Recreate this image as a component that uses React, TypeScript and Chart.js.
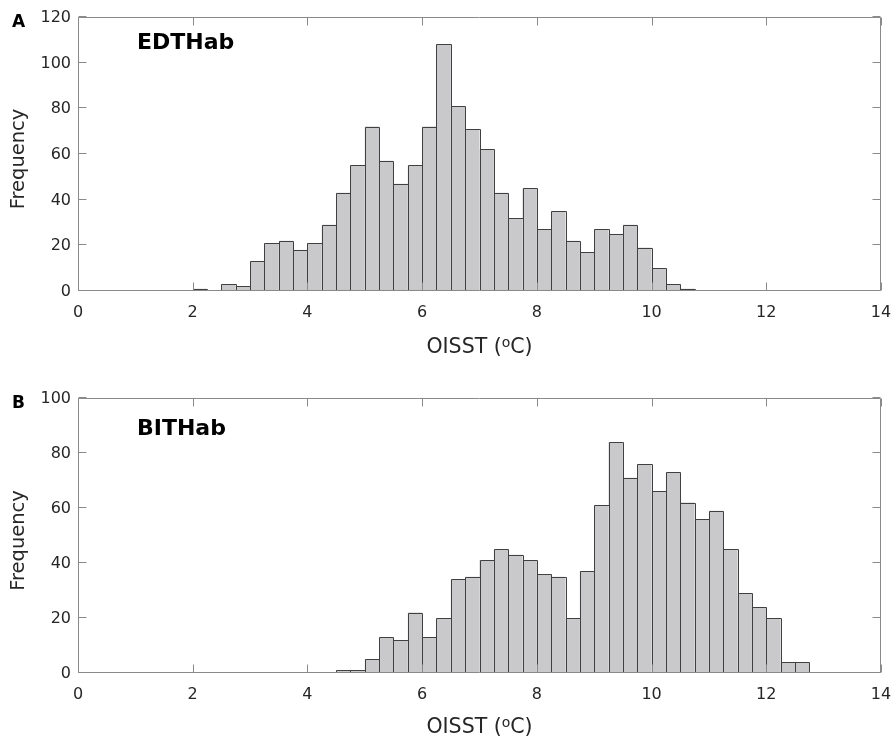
import React, { useEffect, useRef } from 'react';
import { Chart, registerables } from 'chart.js';

Chart.register(...registerables);

// ---------------- data ----------------
const binWidth = 0.25;

const edtStart = 2.0;
const edtCounts = [1, 0, 3, 2, 13, 21, 22, 18, 21, 29, 43, 55, 72, 57, 47, 55, 72, 108, 81, 71, 62, 43, 32, 45, 27, 35, 22, 17, 27, 25, 29, 19, 10, 3, 1];

const bitStart = 4.5;
const bitCounts = [1, 1, 5, 13, 12, 22, 13, 20, 34, 35, 41, 45, 43, 41, 36, 35, 20, 37, 61, 84, 71, 76, 66, 73, 62, 56, 59, 45, 29, 24, 20, 4, 4];

const xMin = 0;
const xMax = 14;
const xStep = 2;
const yStep = 20;
const edtYMax = 120;
const bitYMax = 100;

const yTitle = 'Frequency';
const xTitleMain = 'OISST (';
const xTitleSup = 'o';
const xTitleEnd = 'C)';

// ---------------- styles ----------------
const FONT = '"DejaVu Sans", "Liberation Sans", Arial, sans-serif';
const TEXT = '#262626';
const AXIS = '#8a8a8a';
const BAR_FILL = '#c9c9cb';
const BAR_EDGE = '#404040';
const W = 893;

type PanelProps = {
  counts: number[];
  start: number;
  yMax: number;
  letter: string;
  name: string;
  nameDy: number;
  titleDy: number;
  top: number;
  height: number;
  padTop: number;
  bottomFromTop: number;
};

function Panel(p: PanelProps) {
  const ref = useRef<HTMLCanvasElement>(null);
  useEffect(() => {
    const canvas = ref.current!;
    const data = p.counts.map((c, i) => ({ x: p.start + binWidth * (i + 0.5), y: c }));
    const chartBottom = p.bottomFromTop;

    const edgePlugin = {
      id: 'edges' + p.letter,
      afterDatasetsDraw(chart: any) {
        const { ctx } = chart;
        const xs = chart.scales.x;
        const ys = chart.scales.y;
        const base = Math.round(ys.getPixelForValue(0));
        ctx.save();
        ctx.strokeStyle = BAR_EDGE;
        ctx.lineWidth = 1;
        ctx.beginPath();
        p.counts.forEach((c, i) => {
          if (c <= 0) return;
          const L = Math.round(xs.getPixelForValue(p.start + i * binWidth)) + 0.5;
          const R = Math.round(xs.getPixelForValue(p.start + (i + 1) * binWidth)) + 0.5;
          const T = Math.round(ys.getPixelForValue(c)) + 0.5;
          ctx.moveTo(L, base);
          ctx.lineTo(L, T);
          ctx.lineTo(R, T);
          ctx.lineTo(R, base);
        });
        ctx.stroke();
        ctx.restore();
      },
    };

    const framePlugin = {
      id: 'frame' + p.letter,
      afterDraw(chart: any) {
        const { ctx, chartArea } = chart;
        const { left, right, top, bottom } = chartArea;
        const xs = chart.scales.x;
        const ys = chart.scales.y;
        ctx.save();
        ctx.strokeStyle = AXIS;
        ctx.lineWidth = 1;
        const L = Math.round(left) + 0.5;
        const R = Math.round(right) - 0.5;
        const T = Math.round(top) + 0.5;
        const B = Math.round(bottom) - 0.5;
        ctx.beginPath();
        ctx.rect(L, T, R - L, B - T);
        const tl = 8;
        xs.ticks.forEach((t: any) => {
          const px = Math.round(xs.getPixelForValue(t.value)) + 0.5;
          ctx.moveTo(px, B);
          ctx.lineTo(px, B - tl);
          ctx.moveTo(px, T);
          ctx.lineTo(px, T + tl);
        });
        ys.ticks.forEach((t: any) => {
          const py = Math.round(ys.getPixelForValue(t.value)) - 0.5;
          ctx.moveTo(L, py);
          ctx.lineTo(L + tl, py);
          ctx.moveTo(R, py);
          ctx.lineTo(R - tl, py);
        });
        ctx.stroke();

        // panel letter
        ctx.fillStyle = '#000';
        ctx.textAlign = 'left';
        ctx.textBaseline = 'alphabetic';
        ctx.font = `bold 17px ${FONT}`;
        ctx.fillText(p.letter, 12, top + 9.5);

        // panel name
        ctx.font = `bold 22px ${FONT}`;
        ctx.fillText(p.name, 137, top + p.nameDy);

        // y title
        ctx.fillStyle = TEXT;
        ctx.font = `19.5px ${FONT}`;
        ctx.save();
        ctx.translate(19, (top + bottom) / 2 + 5);
        ctx.rotate(-Math.PI / 2);
        ctx.textAlign = 'center';
        ctx.textBaseline = 'middle';
        ctx.fillText(yTitle, 0, 0);
        ctx.restore();

        // x title with superscript
        ctx.textAlign = 'left';
        ctx.textBaseline = 'alphabetic';
        ctx.font = `20.5px ${FONT}`;
        const w1 = ctx.measureText(xTitleMain).width;
        const w3 = ctx.measureText(xTitleEnd).width;
        ctx.font = `14px ${FONT}`;
        const w2 = ctx.measureText(xTitleSup).width;
        const total = w1 + w2 + w3;
        let sx = (left + right) / 2 - total / 2;
        const by = bottom + p.titleDy;
        ctx.font = `20.5px ${FONT}`;
        ctx.fillText(xTitleMain, sx, by);
        sx += w1;
        ctx.font = `14px ${FONT}`;
        ctx.fillText(xTitleSup, sx, by - 6.5);
        sx += w2;
        ctx.font = `20.5px ${FONT}`;
        ctx.fillText(xTitleEnd, sx, by);
        ctx.restore();
      },
    };

    const chart = new Chart(canvas, {
      type: 'bar',
      data: {
        datasets: [
          {
            data: data as any,
            backgroundColor: BAR_FILL,
            borderWidth: 0,
            barPercentage: 1,
            categoryPercentage: 1,
            inflateAmount: 0,
          } as any,
        ],
      },
      options: {
        responsive: false,
        animation: false,
        devicePixelRatio: 1,
        layout: { padding: { top: p.padTop, left: 0, right: 12, bottom: 0 } },
        plugins: { legend: { display: false }, tooltip: { enabled: false } },
        scales: {
          x: {
            type: 'linear',
            min: xMin,
            max: xMax,
            offset: false,
            grid: { display: false, offset: false, drawTicks: false },
            border: { display: false },
            ticks: {
              stepSize: xStep,
              autoSkip: false,
              maxRotation: 0,
              padding: 12,
              color: TEXT,
              font: { family: FONT, size: 16 },
            },
            afterFit: (s: any) => {
              s.height = p.height - chartBottom;
              s.paddingLeft = 0;
              s.paddingRight = 0;
            },
          },
          y: {
            min: 0,
            max: p.yMax,
            grid: { display: false, drawTicks: false },
            border: { display: false },
            ticks: {
              stepSize: yStep,
              padding: 7,
              labelOffset: 1,
              color: TEXT,
              font: { family: FONT, size: 16 },
            },
            afterFit: (s: any) => {
              s.width = 78;
              s.paddingTop = 0;
              s.paddingBottom = 0;
            },
          },
        },
      } as any,
      plugins: [edgePlugin, framePlugin],
    });
    return () => chart.destroy();
  }, []);
  return (
    <canvas
      ref={ref}
      width={W}
      height={p.height}
      style={{ position: 'absolute', left: 0, top: p.top, width: W, height: p.height }}
    />
  );
}

export default function App() {
  return (
    <div style={{ position: 'absolute', left: 0, top: 0, width: W, height: 739, background: '#fff' }}>
      <Panel
        counts={edtCounts}
        start={edtStart}
        yMax={edtYMax}
        letter="A"
        name="EDTHab"
        nameDy={32}
        titleDy={62}
        top={0}
        height={372}
        padTop={17}
        bottomFromTop={291}
      />
      <Panel
        counts={bitCounts}
        start={bitStart}
        yMax={bitYMax}
        letter="B"
        name="BITHab"
        nameDy={37}
        titleDy={60}
        top={381}
        height={358}
        padTop={17}
        bottomFromTop={292}
      />
    </div>
  );
}
